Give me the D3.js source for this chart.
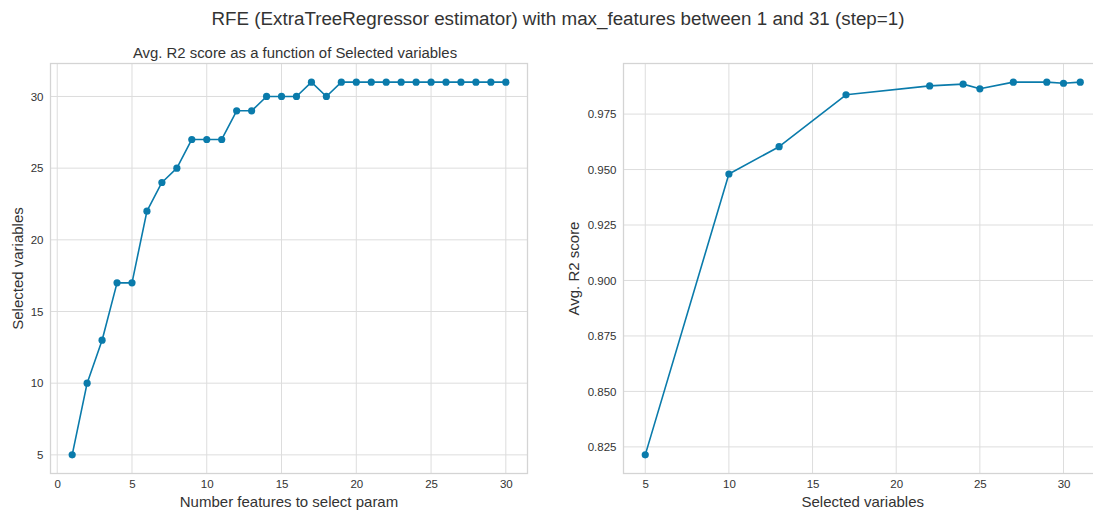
<!DOCTYPE html>
<html>
<head>
<meta charset="utf-8">
<script src="https://cdn.jsdelivr.net/npm/d3@7"></script>
<style>
  html, body { margin: 0; padding: 0; background: #fff; }
  svg { display: block; font-family: "Liberation Sans", Arial, sans-serif; }
</style>
</head>
<body>
<svg id="chart" width="1093" height="512"></svg>
<script>
// RFE run: number of features requested vs. number actually kept
const featuresParam = [1, 2, 3, 4, 5, 6, 7, 8, 9, 10, 11, 12, 13, 14, 15,
  16, 17, 18, 19, 20, 21, 22, 23, 24, 25, 26, 27, 28, 29, 30];
const selectedVars = [5, 10, 13, 17, 17, 22, 24, 25, 27, 27, 27, 29, 29, 30, 30,
  30, 31, 30, 31, 31, 31, 31, 31, 31, 31, 31, 31, 31, 31, 31];

// Average R2 score for each distinct number of selected variables
const scoreVars = [5, 10, 13, 17, 22, 24, 25, 27, 29, 30, 31];
const avgR2 = [0.8214, 0.9480, 0.9603, 0.9837, 0.9877, 0.9885, 0.9864, 0.9894, 0.9894, 0.9889, 0.9894];

const leftXTicks = [0, 5, 10, 15, 20, 25, 30];
const leftYTicks = [5, 10, 15, 20, 25, 30];
const rightXTicks = [5, 10, 15, 20, 25, 30];
const rightYTicks = [0.825, 0.850, 0.875, 0.900, 0.925, 0.950, 0.975];

const LINE = "#0a7bab";
const GRID = "#dddddd";
const SPINE = "#d4d4d4";
const TEXT = "#333333";

const svg = d3.select("#chart");

// padded domain like a default plotting margin (5% each side)
function padded(vals) {
  const [lo, hi] = d3.extent(vals);
  const m = (hi - lo) * 0.05;
  return [lo - m, hi + m];
}

function panel(opts) {
  const { left, right, top, bottom, xs, ys, xTicks, yTicks, yFmt, xLabel, yLabel, yLabelX, title, titleShift } = opts;
  const x = d3.scaleLinear().domain(padded(xs)).range([left, right]);
  const y = d3.scaleLinear().domain(padded(ys)).range([bottom, top]);
  const g = svg.append("g");

  // grid
  g.append("g").selectAll("line").data(xTicks).join("line")
    .attr("x1", d => x(d)).attr("x2", d => x(d))
    .attr("y1", top).attr("y2", bottom)
    .attr("stroke", GRID).attr("stroke-width", 1);
  g.append("g").selectAll("line").data(yTicks).join("line")
    .attr("x1", left).attr("x2", right)
    .attr("y1", d => y(d)).attr("y2", d => y(d))
    .attr("stroke", GRID).attr("stroke-width", 1);

  // spines
  g.append("rect")
    .attr("x", left).attr("y", top)
    .attr("width", right - left).attr("height", bottom - top)
    .attr("fill", "none").attr("stroke", SPINE).attr("stroke-width", 1.3);

  // tick labels via d3 axes (tick marks hidden)
  const xAxis = g.append("g").attr("transform", `translate(0,${bottom})`)
    .call(d3.axisBottom(x).tickValues(xTicks).tickSize(0).tickPadding(6).tickFormat(d3.format("d")));
  const yAxis = g.append("g").attr("transform", `translate(${left},0)`)
    .call(d3.axisLeft(y).tickValues(yTicks).tickSize(0).tickPadding(7).tickFormat(yFmt));
  [xAxis, yAxis].forEach(a => {
    a.select(".domain").remove();
    a.selectAll("text").attr("fill", TEXT).style("font-size", "11.5px")
      .style("font-family", "'Liberation Sans', Arial, sans-serif");
  });

  // series
  const pts = xs.map((v, i) => [v, ys[i]]);
  g.append("path").datum(pts)
    .attr("fill", "none").attr("stroke", LINE).attr("stroke-width", 1.6)
    .attr("stroke-linejoin", "round")
    .attr("d", d3.line().x(d => x(d[0])).y(d => y(d[1])));
  g.append("g").selectAll("circle").data(pts).join("circle")
    .attr("cx", d => x(d[0])).attr("cy", d => y(d[1]))
    .attr("r", 3.6).attr("fill", LINE);

  // labels
  g.append("text").attr("x", (left + right) / 2).attr("y", 507)
    .attr("text-anchor", "middle").attr("fill", TEXT).style("font-size", "15px")
    .text(xLabel);
  g.append("text")
    .attr("transform", `translate(${yLabelX},${(top + bottom) / 2}) rotate(-90)`)
    .attr("text-anchor", "middle").attr("fill", TEXT).style("font-size", "15px")
    .text(yLabel);
  if (title) {
    g.append("text").attr("x", (left + right) / 2 + (titleShift || 0)).attr("y", 58)
      .attr("text-anchor", "middle").attr("fill", TEXT).style("font-size", "14.9px")
      .text(title);
  }
}

panel({
  left: 50.5, right: 527.5, top: 63.5, bottom: 473.5,
  xs: featuresParam, ys: selectedVars,
  xTicks: leftXTicks, yTicks: leftYTicks, yFmt: d3.format("d"),
  xLabel: "Number features to select param", yLabel: "Selected variables",
  yLabelX: 23,
  title: "Avg. R2 score as a function of Selected variables",
  titleShift: 6
});

panel({
  left: 623.5, right: 1102, top: 63.5, bottom: 473.5,
  xs: scoreVars, ys: avgR2,
  xTicks: rightXTicks, yTicks: rightYTicks, yFmt: d3.format(".3f"),
  xLabel: "Selected variables", yLabel: "Avg. R2 score",
  yLabelX: 579
});

svg.append("text").attr("x", 558).attr("y", 25)
  .attr("text-anchor", "middle").attr("fill", TEXT).style("font-size", "18.8px")
  .text("RFE (ExtraTreeRegressor estimator) with max_features between 1 and 31 (step=1)");
</script>
</body>
</html>
